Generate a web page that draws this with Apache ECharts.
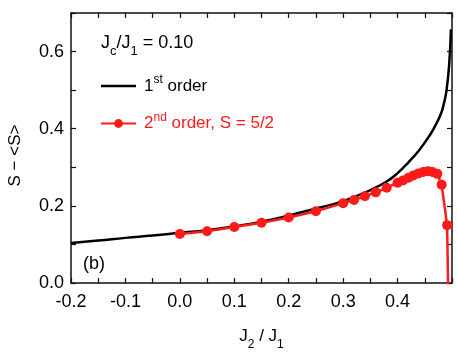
<!DOCTYPE html>
<html>
<head>
<meta charset="utf-8">
<script src="https://cdn.jsdelivr.net/npm/echarts@6/dist/echarts.min.js"></script>
<style>
  html, body { margin: 0; padding: 0; background: #fff; }
  #chart { width: 457px; height: 355px; }
</style>
</head>
<body>
<div id="chart"></div>
<script>
// 1st order curve (J2/J1, S - <S>)
const firstX = [-0.2, -0.15, -0.1, -0.05, 0, 0.05, 0.1, 0.15, 0.2, 0.25, 0.3, 0.35, 0.38, 0.4, 0.42, 0.44, 0.46, 0.47, 0.48, 0.485, 0.49, 0.495, 0.498]
const firstY = [0.104, 0.110, 0.117, 0.123, 0.130, 0.137, 0.147, 0.159, 0.175, 0.193, 0.212, 0.241, 0.263, 0.285, 0.313, 0.345, 0.385, 0.41, 0.44, 0.465, 0.50, 0.57, 0.658]

// 2nd order, S = 5/2 points
const secondX = [0, 0.05, 0.1, 0.15, 0.2, 0.25, 0.3, 0.32, 0.34, 0.36, 0.38, 0.4, 0.41, 0.42, 0.429, 0.438, 0.447, 0.456, 0.464, 0.473, 0.481, 0.491, 0.4945]
const secondY = [0.127, 0.134, 0.145, 0.156, 0.170, 0.186, 0.207, 0.215, 0.225, 0.235, 0.247, 0.26, 0.266, 0.273, 0.279, 0.284, 0.288, 0.29, 0.288, 0.283, 0.255, 0.15, -0.15]

// axis ranges / ticks
const xMin = -0.2, xMax = 0.5, xStep = 0.05
const yMin = 0, yMax = 0.7, yStep = 0.1

const font = 'Liberation Sans, Arial, sans-serif'
const RED = '#ff1a1a'

const chart = echarts.init(document.getElementById('chart'))

const xLabel = v => {
  const k = Math.round(v * 20)
  return (k % 2 === 0 && v < 0.45) ? (Math.round(v * 10) / 10).toFixed(1) : ''
}
const yLabel = v => {
  const k = Math.round(v * 10)
  return k % 2 === 0 ? (k / 10).toFixed(1) : ''
}

const axisCommon = {
  type: 'value',
  axisLine: { onZero: false, lineStyle: { color: '#111', width: 1.5 } },
  axisTick: { inside: true, length: 5, lineStyle: { color: '#111', width: 1.2 } },
  splitLine: { show: false }
}

const main = { fontSize: 17, fontFamily: font, fontWeight: 'normal', color: '#000', lineHeight: 30, verticalAlign: 'middle' }
const sub = { fontSize: 12, fontFamily: font, fontWeight: 'normal', color: '#000', lineHeight: 30, verticalAlign: 'bottom' }

const legendText = (color, pad) => ({ fontSize: 17, fontFamily: font, color: color, lineHeight: 24, verticalAlign: 'middle', padding: [0, 0, 0, pad] })
const legendSup = color => ({ fontSize: 12, fontFamily: font, color: color, lineHeight: 24, verticalAlign: 'top' })

chart.setOption({
  animation: false,
  grid: { left: 71, right: 5, top: 13, bottom: 72, outerBoundsMode: 'none' },
  title: {
    text: '{a|J}{s|c}{a|/J}{s|1}{a| = 0.10}',
    left: 101, top: 28, padding: 0,
    textStyle: { fontWeight: 'normal', rich: { a: Object.assign({}, main, { fontSize: 18 }), s: Object.assign({}, sub, { fontSize: 13 }) } }
  },
  legend: {
    orient: 'vertical',
    left: 100, top: 74, padding: 0,
    itemWidth: 35, itemHeight: 11, itemGap: 17,
    formatter: name => name === 'first'
      ? '{a0|1}{p|st}{a| order}'
      : '{r0|2}{rp|nd}{r| order, S = 5/2}',
    data: [
      { name: 'first', icon: 'path://M0,0 L35,0 L35,2.5 L0,2.5 Z', itemStyle: { color: '#000' } },
      { name: 'second' }
    ],
    symbolKeepAspect: true,
    textStyle: {
      rich: {
        a0: legendText('#000', 3),
        a: legendText('#000', 0),
        p: legendSup('#000'),
        r0: legendText(RED, 3),
        r: legendText(RED, 0),
        rp: legendSup(RED)
      }
    }
  },
  graphic: [{
    type: 'text', left: 83, top: 255,
    style: { text: '(b)', font: '18px ' + font, fill: '#000' }
  }],
  xAxis: [
    Object.assign({}, axisCommon, {
      min: xMin, max: xMax, interval: xStep, position: 'bottom',
      axisLabel: { formatter: xLabel, fontSize: 18, fontFamily: font, color: '#000', margin: 10, showMaxLabel: true },
      name: '{a|J}{s|2}{a| / J}{s|1}',
      nameLocation: 'middle', nameGap: 38,
      nameTextStyle: { rich: { a: main, s: sub } }
    }),
    Object.assign({}, axisCommon, {
      min: xMin, max: xMax, interval: xStep, position: 'top',
      axisLabel: { show: false }
    })
  ],
  yAxis: [
    Object.assign({}, axisCommon, {
      min: yMin, max: yMax, interval: yStep, position: 'left',
      axisLabel: { formatter: yLabel, fontSize: 18, fontFamily: font, color: '#000', margin: 7 },
      name: 'S \u2212 <S>',
      nameLocation: 'middle', nameGap: 47,
      nameTextStyle: { fontSize: 17, fontFamily: font, color: '#000', padding: [0, 15, 0, 0] }
    }),
    Object.assign({}, axisCommon, {
      min: yMin, max: yMax, interval: yStep, position: 'right',
      axisLabel: { show: false }
    })
  ],
  series: [
    {
      name: 'first',
      type: 'line',
      symbol: 'none',
      smooth: true,
      color: '#000',
      lineStyle: { color: '#000', width: 2.5 },
      data: firstX.map((x, i) => [x, firstY[i]])
    },
    {
      name: 'second',
      type: 'line',
      symbol: 'circle',
      symbolSize: 10,
      color: RED,
      itemStyle: { color: RED },
      lineStyle: { color: RED, width: 2.5 },
      clip: true,
      data: secondX.map((x, i) => [x, secondY[i]])
    }
  ]
})
</script>
</body>
</html>
